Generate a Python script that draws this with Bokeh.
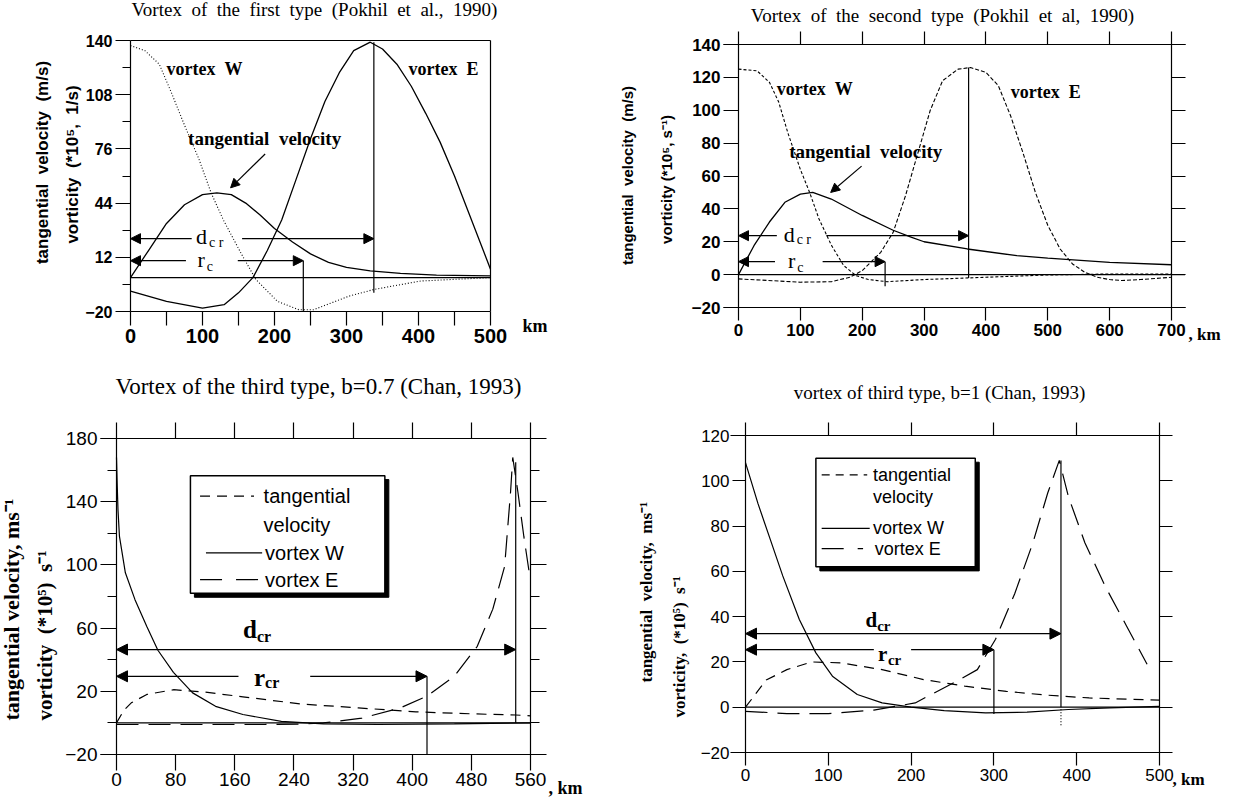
import math
from bokeh.plotting import figure
from bokeh.models import Range1d, FixedTicker, LinearAxis, Label, Arrow, NormalHead
from bokeh.layouts import column, row
from bokeh.embed import file_html
from bokeh.resources import INLINE
from bokeh.core.properties import value

SERIF = "Liberation Serif"
SANS = "Liberation Sans"
NB = "\u00a0"

# ---------------- data ----------------
# Panel 1: vortex of the first type
p1_w_x = [0, 20, 40, 57, 75, 95, 112, 129, 154, 174, 204, 234, 254, 303, 338, 403, 500]
p1_w_y = [137, 134, 126, 109, 90, 70, 50, 34, 14, -1, -14, -19, -19, -11, -7, -2, 0]
p1_e_x = [0, 50, 100, 130, 150, 170, 190, 210, 230, 250, 270, 290, 310, 333, 350, 370, 390, 410, 430, 450, 470, 490, 500]
p1_e_y = [-8, -14, -18, -16, -9, 0, 16, 34, 58, 82, 104, 121, 134, 139, 135, 126, 113, 97, 80, 60, 38, 16, 5]
p1_v_x = [0, 25, 50, 75, 100, 120, 140, 160, 180, 200, 225, 250, 275, 300, 333, 375, 425, 500]
p1_v_y = [0, 16, 32, 43, 49, 50, 49, 44, 37, 29, 21, 14, 9, 6, 4, 2.5, 1.5, 1]
p1_dcr, p1_dcr_y = 338, 23
p1_rc, p1_rc_y = 240, 10

# Panel 2: vortex of the second type
p2_w_x = [0, 30, 50, 65, 80, 100, 115, 130, 150, 170, 190, 210, 240, 300, 400, 500, 600, 700]
p2_w_y = [125, 124, 117, 105, 86, 64, 50, 34, 18, 5.5, -0.6, -3, -4.3, -3, -1.6, -0.2, 0.4, 0.4]
p2_e_x = [0, 100, 150, 180, 200, 230, 250, 270, 290, 310, 330, 355, 375, 400, 420, 440, 460, 480, 500, 520, 540, 560, 580, 600, 620, 650, 700]
p2_e_y = [-2.6, -4.6, -4.3, -1.6, 2.4, 13.6, 25.7, 48, 74, 100, 118, 125, 126, 123, 115, 96.5, 74, 50, 30, 15.6, 6.5, 1.4, -1.6, -3, -3.6, -3, -1.6]
p2_v_x = [0, 25, 50, 75, 100, 120, 150, 200, 250, 280, 300, 370, 450, 500, 600, 700]
p2_v_y = [0, 17.6, 32, 44, 49, 50, 46, 36, 27, 22.7, 20, 15.6, 11.5, 10, 7.5, 6]
p2_dcr, p2_dcr_y = 372, 23.7
p2_rc, p2_rc_y = 237, 7.9

# Panel 3: third type, b=0.7
p3_w_x = [0, 1, 2, 4, 12, 25, 41, 56, 77, 103, 134, 171, 223, 280, 353, 457, 560]
p3_w_y = [168, 150, 135, 118, 95, 78, 61, 46, 32, 19, 10.5, 5.3, 1, -0.6, -1, -0.6, 0]
p3_e_x = [0, 100, 200, 250, 280, 332, 384, 420, 457, 488, 509, 525, 533, 536, 543, 551, 558]
p3_e_y = [-1, -1, -1, -0.8, 0, 3, 9.5, 17, 29.5, 48.5, 72, 99, 146, 168, 146, 118, 96]
p3_v_x = [0, 10, 20, 41, 77, 119, 171, 249, 327, 405, 483, 540, 560]
p3_v_y = [0, 8, 12.7, 18, 21, 19.5, 16.5, 12, 9.5, 7, 5.7, 5, 4.5]
p3_dcr, p3_dcr_y = 540, 46.4
p3_rcr, p3_rcr_y = 420, 29.5

# Panel 4: third type, b=1
p4_w_x = [0, 15, 30, 45, 65, 85, 105, 135, 165, 200, 240, 290, 340, 390, 440, 500]
p4_w_y = [108, 90, 74, 58, 38.7, 24, 13.7, 5.6, 1.9, 0, -1.5, -2.5, -2.2, -1, -0.3, 0.4]
p4_e_x = [0, 50, 100, 155, 205, 255, 280, 302, 325, 347, 365, 379, 390, 410, 435, 460, 485]
p4_e_y = [-1.8, -2.8, -2.8, -1.3, 1.9, 11.5, 16.6, 30, 50, 72.5, 94.6, 109, 93, 72.5, 53, 36, 19]
p4_v_x = [0, 25, 50, 80, 115, 165, 215, 265, 315, 365, 415, 500]
p4_v_y = [0, 12, 16.6, 20, 19.6, 16.6, 12.2, 9.3, 7, 5.3, 4.1, 3.1]
p4_dcr, p4_dcr_y = 381, 32.5
p4_rcr, p4_rcr_y = 300, 25.4

# tick values
p1_yticks = [140, 108, 76, 44, 12, -20]
p1_yminor = [124, 92, 60, 28, -4]
p1_xticks = [0, 100, 200, 300, 400, 500]
p1_xminor = [50, 150, 250, 350, 450]
p2_yticks = [140, 120, 100, 80, 60, 40, 20, 0, -20]
p2_xticks = [0, 100, 200, 300, 400, 500, 600, 700]
p3_yticks = [180, 140, 100, 60, 20, -20]
p3_yminor = [160, 120, 80, 40, 0]
p3_xticks = [0, 80, 160, 240, 320, 400, 480, 560]
p4_yticks = [120, 100, 80, 60, 40, 20, 0, -20]
p4_xticks = [0, 100, 200, 300, 400, 500]


# ---------------- helpers ----------------
def make_fig(w, h, geo):
    """Frame fills the whole figure; the data box sits at geo (pixels)."""
    left, top, fw, fh, x0, x1, y0, y1 = geo
    sx = (x1 - x0) / fw
    sy = (y1 - y0) / fh
    p = figure(width=w, height=h,
               x_range=Range1d(x0 - left * sx, x0 + (w - left) * sx),
               y_range=Range1d(y1 - (h - top) * sy, y1 + top * sy),
               x_axis_type=None, y_axis_type=None, title=None,
               output_backend="svg", toolbar_location=None, tools="",
               min_border_left=0, min_border_right=0,
               min_border_top=0, min_border_bottom=0)
    p.outline_line_color = None
    p.background_fill_color = "white"
    p.border_fill_color = "white"
    return p


def add_axis(p, side, loc, bounds, ticks, minor=None, labels=True, out=12, minor_out=6,
             font=SANS, size="15px", style="bold", standoff=3):
    ax = LinearAxis(ticker=FixedTicker(ticks=ticks, minor_ticks=minor or []),
                    fixed_location=loc, bounds=bounds)
    ax.major_tick_out = out
    ax.major_tick_in = 0
    ax.minor_tick_out = minor_out
    ax.minor_tick_in = 0
    ax.axis_line_color = "black"
    ax.axis_line_width = 1.2
    ax.major_tick_line_width = 1.2
    ax.minor_tick_line_width = 1.2
    ax.major_tick_line_color = "black"
    ax.minor_tick_line_color = "black"
    if labels:
        ax.major_label_text_font = font
        ax.major_label_text_font_size = size
        ax.major_label_text_font_style = style
        ax.major_label_text_color = "black"
        ax.major_label_standoff = standoff
    else:
        ax.major_label_overrides = {t: "" for t in ticks}
        ax.major_label_standoff = 0
    p.add_layout(ax, side)
    return ax


def px2data(geo, fx, fy):
    left, top, fw, fh, x0, x1, y0, y1 = geo
    return x0 + (fx - left) / fw * (x1 - x0), y1 - (fy - top) / fh * (y1 - y0)


def add_label(p, geo, fx, fy, text, size, font=SERIF, style="normal",
              angle=0.0, align="center", baseline="middle"):
    x, y = px2data(geo, fx, fy)
    p.add_layout(Label(x=x, y=y, text=text, text_font=font, text_font_size=size,
                       text_font_style=style, angle=angle, text_align=align,
                       text_baseline=baseline, text_color="black"))


def head(size=10):
    return NormalHead(size=size, fill_color="black", line_color="black", line_width=1)


def arrow(p, xs, ys, xe, ye, both=False, size=10):
    p.add_layout(Arrow(x_start=xs, y_start=ys, x_end=xe, y_end=ye,
                       start=head(size) if both else None, end=head(size),
                       line_color="black", line_width=1.2))


def txt(p, x, y, s, size, font=SERIF, style="normal", align="left"):
    p.text(x=[x], y=[y], text=[s], text_font=value(font), text_font_size=size,
           text_font_style=style, text_align=align, text_baseline="middle",
           text_color="black")


def seg(p, xa, ya, xb, yb, dash="solid", width=1.2):
    p.segment(x0=[xa], y0=[ya], x1=[xb], y1=[yb], line_color="black", line_width=width,
              line_dash=dash)


def sp(s):
    return s.replace(" ", NB + NB)


# ---------------- panel 1 ----------------
g1 = (130, 40, 360, 271, 0, 500, -20, 140)
f1 = make_fig(592, 364, g1)
add_axis(f1, "left", 0, (-20, 140), p1_yticks, p1_yminor, out=15, minor_out=8, size="16px")
add_axis(f1, "below", -20, (0, 500), p1_xticks, p1_xminor, out=14, minor_out=14, size="20px")
seg(f1, 0, 140, 500, 140)
seg(f1, 500, -20, 500, 140)
seg(f1, 0, 0, 500, 0)
f1.line(p1_w_x, p1_w_y, line_color="black", line_width=1.1, line_dash="1 2")
f1.line(p1_e_x, p1_e_y, line_color="black", line_width=1.3)
f1.line(p1_v_x, p1_v_y, line_color="black", line_width=1.3)
seg(f1, p1_dcr, -9, p1_dcr, max(p1_e_y))
seg(f1, p1_rc, -20, p1_rc, p1_rc_y)
arrow(f1, 85, p1_dcr_y, 0, p1_dcr_y)
arrow(f1, 155, p1_dcr_y, p1_dcr, p1_dcr_y)
arrow(f1, 77, p1_rc_y, 0, p1_rc_y)
arrow(f1, 149, p1_rc_y, p1_rc, p1_rc_y)
txt(f1, 91, p1_dcr_y + 1, "d", "22px")
txt(f1, 109, p1_dcr_y - 2.5, "c r", "14px")
txt(f1, 93, p1_rc_y + 0.5, "r", "22px")
txt(f1, 106, p1_rc_y - 3.5, "c", "14px")
txt(f1, 50, 123, sp("vortex W"), "18px", style="bold")
txt(f1, 386, 123, sp("vortex E"), "18px", style="bold")
txt(f1, 80, 82, sp("tangential velocity"), "19px", style="bold")
arrow(f1, 187, 73, 139, 53, size=9)
add_label(f1, g1, 314, 9, sp("Vortex of the first type (Pokhil et al., 1990)"), "19px")
add_label(f1, g1, 42, 162, sp("tangential velocity (m/s)"), "17px", font=SANS, style="bold", angle=math.pi / 2)
add_label(f1, g1, 72, 164, sp("vorticity (*10\u2075, 1/s)"), "17px", font=SANS, style="bold", angle=math.pi / 2)
add_label(f1, g1, 522, 325, "km", "18px", style="bold", align="left")

# ---------------- panel 2 ----------------
g2 = (146, 44, 433, 263, 0, 700, -20, 140)
f2 = make_fig(637, 364, g2)
add_axis(f2, "left", 0, (-20, 140), p2_yticks, out=15, size="17px")
add_axis(f2, "below", -20, (-25, 722), p2_xticks, out=13, size="17px")
add_axis(f2, "right", 700, (-20, 140), p2_yticks, labels=False, out=14)
add_axis(f2, "above", 140, (-25, 722), p2_xticks, labels=False, out=13)
seg(f2, 0, 0, 722, 0)
f2.line(p2_w_x, p2_w_y, line_color="black", line_width=1.1, line_dash="3 2")
f2.line(p2_e_x, p2_e_y, line_color="black", line_width=1.1, line_dash="4 2")
f2.line(p2_v_x, p2_v_y, line_color="black", line_width=1.3)
seg(f2, p2_dcr, -2, p2_dcr, max(p2_e_y))
seg(f2, p2_rc, -7, p2_rc, p2_rc_y)
arrow(f2, 62, p2_dcr_y, 0, p2_dcr_y)
arrow(f2, 142, p2_dcr_y, p2_dcr, p2_dcr_y)
arrow(f2, 59, p2_rc_y, 0, p2_rc_y)
arrow(f2, 136, p2_rc_y, p2_rc, p2_rc_y)
txt(f2, 73, p2_dcr_y + 1, "d", "22px")
txt(f2, 94, p2_dcr_y - 2.5, "c r", "14px")
txt(f2, 80, p2_rc_y + 0.5, "r", "22px")
txt(f2, 95, p2_rc_y - 3.5, "c", "14px")
txt(f2, 62, 113, sp("vortex W"), "18px", style="bold")
txt(f2, 440, 111, sp("vortex E"), "18px", style="bold")
txt(f2, 82, 75, sp("tangential velocity"), "19px", style="bold")
arrow(f2, 199, 66, 149, 50, size=9)
add_label(f2, g2, 350, 15, sp("Vortex of the second type (Pokhil et al, 1990)"), "19px")
add_label(f2, g2, 35, 175, sp("tangential velocity (m/s)"), "15px", font=SANS, style="bold", angle=math.pi / 2)
add_label(f2, g2, 74, 179, "vorticity (*10\u2075, s\u207b\u00b9)", "15px", font=SANS, style="bold", angle=math.pi / 2)
add_label(f2, g2, 596, 334, ", km", "17px", style="bold", align="left")

# ---------------- panel 3 ----------------
g3 = (116, 74, 414, 316, 0, 560, -20, 180)
f3 = make_fig(592, 433, g3)
add_axis(f3, "left", 0, (-20, 180), p3_yticks, p3_yminor, out=16, minor_out=9, font=SANS, size="19px", style="normal")
add_axis(f3, "below", -20, (-22, 580), p3_xticks, out=16, font=SANS, size="19px", style="normal", standoff=2)
add_axis(f3, "right", 560, (-20, 180), p3_yticks, p3_yminor, labels=False, out=16, minor_out=9)
add_axis(f3, "above", 180, (-22, 580), p3_xticks, labels=False, out=16)
seg(f3, 0, 0, 560, 0)
f3.line(p3_w_x, p3_w_y, line_color="black", line_width=1.2)
f3.line(p3_e_x, p3_e_y, line_color="black", line_width=1.2, line_dash="22 10")
f3.line(p3_v_x, p3_v_y, line_color="black", line_width=1.2, line_dash="10 7")
seg(f3, p3_rcr, -20, p3_rcr, p3_rcr_y)
seg(f3, p3_dcr, 0, p3_dcr, 165)
arrow(f3, 0, p3_dcr_y, p3_dcr, p3_dcr_y, both=True, size=11)
arrow(f3, 165, p3_rcr_y, 0, p3_rcr_y, size=11)
arrow(f3, 262, p3_rcr_y, p3_rcr, p3_rcr_y, size=11)
txt(f3, 171, 59, "d", "25px", style="bold")
txt(f3, 190, 55, "cr", "16px", style="bold")
txt(f3, 186, 29, "r", "25px", style="bold")
txt(f3, 201, 25.5, "cr", "16px", style="bold")
# legend box with drop shadow
f3.quad(left=[105.4], right=[368.4], bottom=[79.5], top=[154], fill_color="black", line_color="black")
f3.quad(left=[100], right=[363], bottom=[82], top=[156.5], fill_color="white", line_color="black", line_width=1.5)
seg(f3, 113, 143.5, 186, 143.5, dash="10 7")
seg(f3, 121, 107.6, 197, 107.6)
seg(f3, 113, 90.7, 197, 90.7, dash="22 14")
txt(f3, 199, 143.5, "tangential", "20px", font=SANS)
txt(f3, 199, 125.5, "velocity", "20px", font=SANS)
txt(f3, 201, 107.6, "vortex W", "20px", font=SANS)
txt(f3, 201, 90.7, "vortex E", "20px", font=SANS)
add_label(f3, g3, 318, 22, "Vortex of the third type, b=0.7 (Chan, 1993)", "23px")
add_label(f3, g3, 11, 356, "tangential velocity, ms\u207b\u00b9", "22px", style="bold", angle=math.pi / 2, align="left")
add_label(f3, g3, 44, 356, sp("vorticity (*10\u2075) s\u207b\u00b9"), "21px", style="bold", angle=math.pi / 2, align="left")
add_label(f3, g3, 548, 423, ", km", "18px", style="bold", align="left")

# ---------------- panel 4 ----------------
g4 = (153, 71, 414, 317, 0, 500, -20, 120)
f4 = make_fig(637, 433, g4)
add_axis(f4, "left", 0, (-20, 120), p4_yticks, out=13, font=SANS, size="17px", style="normal")
add_axis(f4, "below", -20, (-18, 515), p4_xticks, out=13, font=SANS, size="17px", style="normal")
add_axis(f4, "right", 500, (-20, 120), p4_yticks, labels=False, out=13)
add_axis(f4, "above", 120, (-18, 515), p4_xticks, labels=False, out=13)
seg(f4, 0, 0, 500, 0)
f4.line(p4_w_x, p4_w_y, line_color="black", line_width=1.2)
f4.line(p4_e_x, p4_e_y, line_color="black", line_width=1.2, line_dash="22 10")
f4.line(p4_v_x, p4_v_y, line_color="black", line_width=1.2, line_dash="10 7")
seg(f4, p4_rcr, -3, p4_rcr, p4_rcr_y)
seg(f4, p4_dcr, 0, p4_dcr, max(p4_e_y))
seg(f4, p4_dcr, -8, p4_dcr, 0, dash="1 2")
arrow(f4, 0, p4_dcr_y, p4_dcr, p4_dcr_y, both=True, size=11)
arrow(f4, 155, p4_rcr_y, 0, p4_rcr_y, size=11)
arrow(f4, 200, p4_rcr_y, p4_rcr, p4_rcr_y, size=11)
txt(f4, 145, 38.5, "d", "21px", style="bold")
txt(f4, 159, 36, "cr", "15px", style="bold")
txt(f4, 160, 23.5, "r", "21px", style="bold")
txt(f4, 172, 21, "cr", "15px", style="bold")
f4.quad(left=[89.8], right=[282.3], bottom=[60.2], top=[108.2], fill_color="black", line_color="black")
f4.quad(left=[85], right=[277.5], bottom=[62], top=[110], fill_color="white", line_color="black", line_width=1.5)
seg(f4, 92, 102.6, 147, 102.6, dash="8 6")
seg(f4, 92, 79, 150, 79)
seg(f4, 92, 70, 142, 70, dash="22 14")
txt(f4, 154, 102.6, "tangential", "18px", font=SANS)
txt(f4, 154, 93, "velocity", "18px", font=SANS)
txt(f4, 154, 79, "vortex W", "18px", font=SANS)
txt(f4, 156, 70, "vortex E", "18px", font=SANS)
add_label(f4, g4, 347, 28, "vortex of third type, b=1 (Chan, 1993)", "19px")
add_label(f4, g4, 54, 318, sp("tangential velocity, ms\u207b\u00b9"), "17px", style="bold", angle=math.pi / 2, align="left")
add_label(f4, g4, 87, 353, sp("vorticity, (*10\u2075) s\u207b\u00b9"), "17px", style="bold", angle=math.pi / 2, align="left")
add_label(f4, g4, 580, 415, ", km", "17px", style="bold", align="left")

layout = column(row(f1, f2), row(f3, f4))
open("out.html", "w").write(file_html(layout, INLINE))
